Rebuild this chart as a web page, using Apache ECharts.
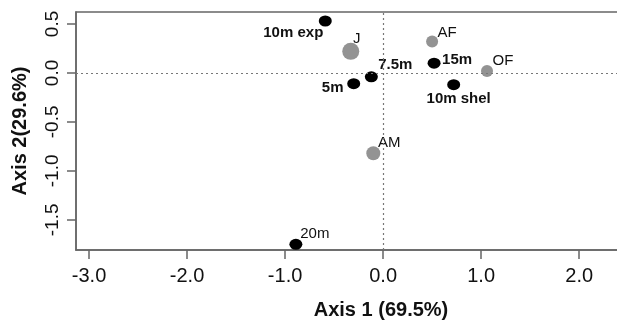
<!DOCTYPE html>
<html>
<head>
<meta charset="utf-8">
<script src="https://cdn.jsdelivr.net/npm/echarts@6/dist/echarts.min.js"></script>
<style>
  html, body { margin: 0; padding: 0; background: #fff; }
  #main { width: 617px; height: 325px; }
</style>
</head>
<body>
<div id="main"></div>
<script>
// site / group scores on the first two axes
var blackNames = ['10m exp', '15m', '7.5m', '5m', '10m shel', '20m'];
var blackX = [-0.59, 0.52, -0.12, -0.30, 0.72, -0.89];
var blackY = [0.53, 0.10, -0.04, -0.11, -0.12, -1.75];

var greyNames = ['J', 'AF', 'OF', 'AM'];
var greyX = [-0.33, 0.50, 1.06, -0.10];
var greyY = [0.22, 0.32, 0.02, -0.82];

var xTicks = [-3, -2, -1, 0, 1, 2];
var yTicks = [-1.5, -1, -0.5, 0, 0.5];

// label placement (offset from point centre) and marker sizes
var labelOffset = {
    '10m exp': [-32, 12],
    '15m': [23, -3],
    '7.5m': [24, -12],
    '5m': [-21, 4],
    '10m shel': [5, 14],
    '20m': [19, -10],
    'J': [6, -13],
    'AF': [15, -9],
    'OF': [16, -10],
    'AM': [16, -10]
};
var plainLabels = ['J', 'AF', 'OF', 'AM', '20m'];
var greySize = { 'J': 17, 'AF': 12, 'OF': 12, 'AM': 14 };

function build(names, xs, ys, sizeFn) {
    return names.map(function (n, i) {
        return {
            name: n,
            value: [xs[i], ys[i]],
            symbolSize: sizeFn(n),
            label: {
                show: true,
                position: 'inside',
                offset: labelOffset[n],
                formatter: n,
                fontFamily: 'Liberation Sans, Arial, sans-serif',
                fontSize: 15,
                fontWeight: plainLabels.indexOf(n) >= 0 ? 'normal' : 'bold',
                color: '#111'
            }
        };
    });
}

var dom = document.getElementById('main');
var myChart = echarts.init(dom);
var axisFont = 'Liberation Sans, Arial, sans-serif';
var option = {
    animation: false,
    backgroundColor: '#fff',
    grid: {
        left: 76,
        top: 12,
        width: 610,
        height: 238,
        containLabel: false,
        outerBoundsMode: 'none',
        show: true,
        borderColor: '#666',
        borderWidth: 1.5
    },
    xAxis: {
        type: 'value',
        min: -3.133,
        max: 3.09,
        name: 'Axis 1 (69.5%)',
        nameLocation: 'middle',
        nameGap: 50,
        nameTextStyle: { fontFamily: axisFont, fontSize: 20, fontWeight: 'bold', color: '#111' },
        axisLine: { show: true, onZero: false, lineStyle: { color: '#666', width: 1.5 } },
        axisTick: { show: true, length: 9, lineStyle: { color: '#666', width: 1.5 }, customValues: xTicks },
        axisLabel: {
            margin: 16,
            fontFamily: axisFont,
            fontSize: 20,
            color: '#111',
            customValues: xTicks,
            formatter: function (v) { return v.toFixed(1); }
        },
        splitLine: { show: false }
    },
    yAxis: {
        type: 'value',
        min: -1.808,
        max: 0.622,
        name: 'Axis 2(29.6%)',
        nameLocation: 'middle',
        nameGap: 46,
        nameTextStyle: { fontFamily: axisFont, fontSize: 20, fontWeight: 'bold', color: '#111' },
        axisLine: { show: true, onZero: false, lineStyle: { color: '#666', width: 1.5 } },
        axisTick: { show: true, length: 9, lineStyle: { color: '#666', width: 1.5 }, customValues: yTicks },
        axisLabel: {
            margin: 14,
            rotate: 90,
            fontFamily: axisFont,
            fontSize: 19,
            color: '#111',
            customValues: yTicks,
            formatter: function (v) { return v.toFixed(1); }
        },
        splitLine: { show: false }
    },
    series: [
        {
            name: 'groups',
            type: 'scatter',
            itemStyle: { color: '#939393', opacity: 1 },
            data: build(greyNames, greyX, greyY, function (n) { return greySize[n]; }),
            markLine: {
                silent: true,
                symbol: 'none',
                label: { show: false },
                lineStyle: { color: '#777', type: [2, 3], width: 1.2 },
                data: [{ xAxis: 0 }, { yAxis: 0 }]
            },
            z: 2
        },
        {
            name: 'sites',
            type: 'scatter',
            itemStyle: { color: '#000', opacity: 1 },
            data: build(blackNames, blackX, blackY, function () { return [13, 11]; }),
            z: 3
        }
    ]
};
if (option && typeof option === "object") {
    myChart.setOption(option, true);
}
</script>
</body>
</html>
